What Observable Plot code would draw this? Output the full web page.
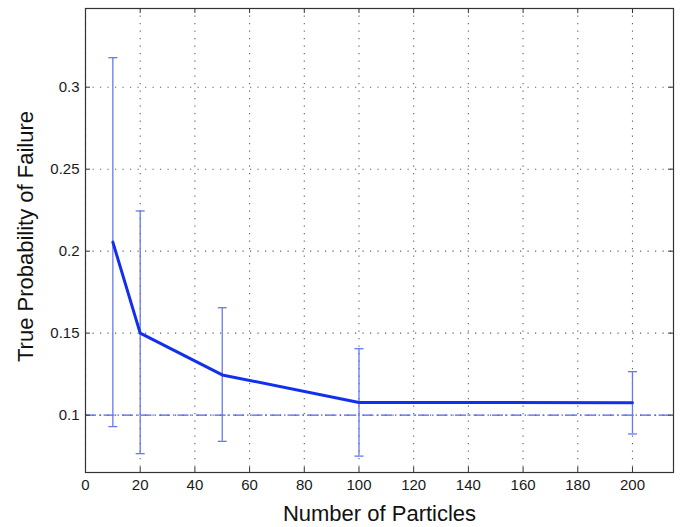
<!DOCTYPE html>
<html>
<head>
<meta charset="utf-8">
<script src="https://cdn.jsdelivr.net/npm/d3@7"></script>
<script src="https://cdn.jsdelivr.net/npm/@observablehq/plot@0.6"></script>
<style>
  html, body { margin: 0; padding: 0; background: #fff; }
  #chart svg { display: block; }
</style>
</head>
<body>
<div id="chart"></div>
<script>
// ---- data ----
const lineX = [10, 20, 50, 100, 150, 200];
const lineY = [0.2055, 0.1500, 0.1245, 0.1077, 0.1077, 0.1075];

const errX  = [10, 20, 50, 100, 200];
const errLo = [0.0930, 0.0765, 0.0840, 0.0750, 0.0885];
const errHi = [0.3180, 0.2245, 0.1655, 0.1405, 0.1265];

const trueValue = [0.1];

const xTicks = [0, 20, 40, 60, 80, 100, 120, 140, 160, 180, 200];
const yTicks = [0.1, 0.15, 0.2, 0.25, 0.3];

const xLabel = "Number of Particles";
const yLabel = "True Probability of Failure";

// ---- tables built from the arrays ----
const lineData = lineX.map((x, i) => ({x, y: lineY[i]}));
const errData = errX.map((x, i) => ({x, lo: errLo[i], hi: errHi[i]}));

const W = 684, H = 527;
const mL = 85, mR = 11, mT = 8, mB = 55;
const plotW = W - mL - mR, plotH = H - mT - mB;
const tickLen = 5;

const capSymbol = { draw(ctx) { ctx.moveTo(-4.5, 0); ctx.lineTo(4.5, 0); } };

const mainBlue = "#1230ec";
const errBlue = "#6479ef";
const gridStyle = {stroke: "#444", strokeOpacity: 0.85, strokeDasharray: "1.2,6.3", strokeWidth: 1.1};

const chart = Plot.plot({
  width: W,
  height: H,
  marginLeft: mL,
  marginRight: mR,
  marginTop: mT,
  marginBottom: mB,
  style: {fontFamily: "'Liberation Sans', Arial, Helvetica, sans-serif", fontSize: "15px", color: "#1a1a1a", background: "#fff"},
  x: {domain: [0, 215]},
  y: {domain: [0.065, 0.348]},
  marks: [
    Plot.gridX(xTicks, gridStyle),
    Plot.gridY(yTicks, gridStyle),
    Plot.ruleY(trueValue, {stroke: "#4a63ee", strokeWidth: 1.1, strokeDasharray: "11,3,1.5,3"}),
    Plot.ruleX(errData, {x: "x", y1: "lo", y2: "hi", stroke: errBlue, strokeWidth: 1.3}),
    Plot.dot(errData, {x: "x", y: "lo", symbol: capSymbol, fill: "none", stroke: errBlue, strokeWidth: 1.3}),
    Plot.dot(errData, {x: "x", y: "hi", symbol: capSymbol, fill: "none", stroke: errBlue, strokeWidth: 1.3}),
    Plot.line(lineData, {x: "x", y: "y", stroke: mainBlue, strokeWidth: 3, strokeLinejoin: "round"}),
    // inward MATLAB-style ticks on all four sides
    Plot.tickX(xTicks, {x: d => d, insetTop: plotH - tickLen, stroke: "#333"}),
    Plot.tickX(xTicks, {x: d => d, insetBottom: plotH - tickLen, stroke: "#333"}),
    Plot.tickY(yTicks, {y: d => d, insetRight: plotW - tickLen, stroke: "#333"}),
    Plot.tickY(yTicks, {y: d => d, insetLeft: plotW - tickLen, stroke: "#333"}),
    Plot.frame({stroke: "#333", strokeWidth: 1.2}),
    Plot.axisX(xTicks, {tickSize: 0, tickPadding: 7, fontSize: 15, label: null}),
    Plot.axisY(yTicks, {tickSize: 0, tickPadding: 6, fontSize: 15, label: null, tickFormat: d3.format("~g")}),
    Plot.text([xLabel], {text: d => d, frameAnchor: "bottom", textAnchor: "middle", lineAnchor: "middle", dy: 41, fontSize: 22, fill: "#111"}),
    Plot.text([yLabel], {text: d => d, frameAnchor: "left", textAnchor: "middle", lineAnchor: "middle", rotate: -90, dx: -60, dy: -4, fontSize: 22, fill: "#111"})
  ]
});

document.getElementById("chart").appendChild(chart);
</script>
</body>
</html>
